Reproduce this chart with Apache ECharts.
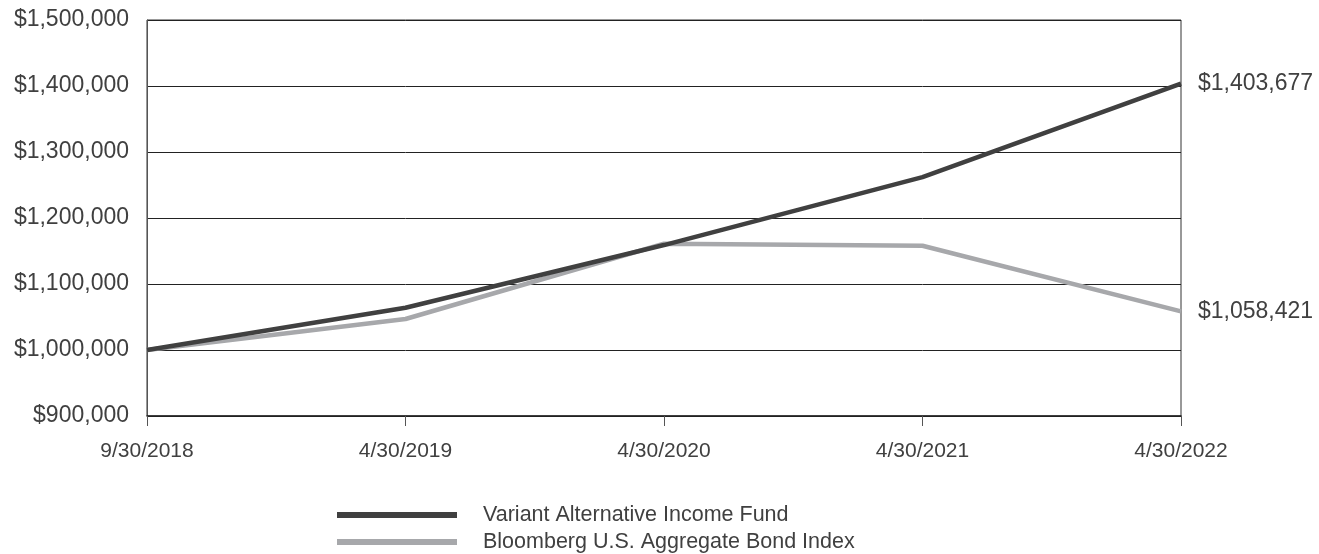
<!DOCTYPE html>
<html><head><meta charset="utf-8">
<script src="https://cdn.jsdelivr.net/npm/echarts@6/dist/echarts.min.js"></script>
<style>html,body{margin:0;padding:0;background:#fff}#c{width:1319px;height:554px}</style>
</head><body><div id="c"></div>
<script>
var categories = ['9/30/2018','4/30/2019','4/30/2020','4/30/2021','4/30/2022'];
var fundName = 'Variant Alternative Income Fund';
var bondName = 'Bloomberg U.S. Aggregate Bond Index';
var fundValues = [1000000, 1064000, 1159000, 1262000, 1403677];
var bondValues = [1000000, 1047000, 1161000, 1158000, 1058421];

function money(v){ return '$' + Math.round(v).toString().replace(/\B(?=(\d{3})+(?!\d))/g, ','); }

var legendBase = {
  orient:'horizontal',left:332,itemWidth:120,itemHeight:6,
  icon:'rect',
  textStyle:{fontSize:21.5,color:'#404040',padding:[0,0,0,21]}
};
var chart = echarts.init(document.getElementById('c'));
chart.setOption({
  animation:false,
  textStyle:{fontFamily:'Liberation Sans, Arial, sans-serif'},
  grid:{left:147,right:138,top:20,bottom:138,show:true,borderColor:'#333',borderWidth:1},
  legend:[
    Object.assign({}, legendBase, {top:499, data:[fundName]}),
    Object.assign({}, legendBase, {top:526, data:[bondName]})
  ],
  xAxis:{
    type:'category',boundaryGap:false,data:categories,
    axisLine:{lineStyle:{color:'#222',width:1.5}},
    axisTick:{show:true,length:10,lineStyle:{color:'#555'}},
    axisLabel:{fontSize:21,color:'#404040',margin:25},
    splitLine:{show:false}
  },
  yAxis:{
    type:'value',min:900000,max:1500000,interval:100000,
    axisLine:{show:true,lineStyle:{color:'#555'}},
    axisTick:{show:false},
    axisLabel:{fontSize:23,color:'#404040',margin:18,formatter:money},
    splitLine:{lineStyle:{color:'#222',width:1}}
  },
  series:[
    {name:fundName,type:'line',data:fundValues,symbol:'none',z:3,
     lineStyle:{color:'#404040',width:4.5},itemStyle:{color:'#404040'},
     endLabel:{show:true,formatter:function(p){return money(p.value);},fontSize:23,color:'#404040',distance:17}},
    {name:bondName,type:'line',data:bondValues,symbol:'none',z:2,
     lineStyle:{color:'#a7a8ab',width:4.5},itemStyle:{color:'#a7a8ab'},
     endLabel:{show:true,formatter:function(p){return money(p.value);},fontSize:23,color:'#404040',distance:17}}
  ]
});
</script></body></html>
